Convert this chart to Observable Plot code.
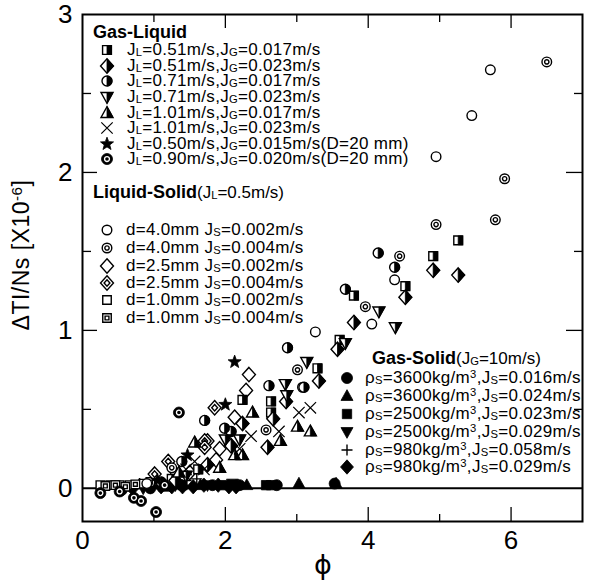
<!DOCTYPE html>
<html><head><meta charset="utf-8">
<script src="https://cdn.jsdelivr.net/npm/d3@7"></script>
<script src="https://cdn.jsdelivr.net/npm/@observablehq/plot@0.6"></script>
<style>
body{margin:0;background:#fff;}
#wrap{position:relative;width:594px;height:580px;font-family:"Liberation Sans",Arial,Helvetica,sans-serif;color:#000;overflow:hidden;}
#wrap svg.plot{position:absolute;left:0;top:0;}
.t{position:absolute;white-space:nowrap;line-height:0.86;transform:translateY(-50%);font-size:17px;letter-spacing:0.3px;}
.hd{font-weight:bold;font-size:18px;letter-spacing:0;}
.hd span{font-weight:normal;font-size:17px;}
.ic{position:absolute;overflow:visible;}
sub,sup{display:inline-block;font-size:0.66em;line-height:0.6;}
sub{vertical-align:-0.12em;}
sup{vertical-align:0.45em;}
</style></head>
<body><div id="wrap"></div>
<script>
// ---------- data (phi, ΔTI/Ns ×10^-6) ----------
const gl1 = [[1.25,0.06],[1.62,0.12],[2.24,0.56],[2.64,0.55],[2.64,0.48],[3.29,0.76],[3.60,0.94],[3.80,1.22],[4.52,1.28],[4.91,1.47],[5.26,1.57]];
const gl2 = [[1.30,0.05],[1.75,0.15],[2.08,0.27],[2.24,0.41],[2.59,0.26],[2.67,0.44],[2.85,0.55],[3.31,0.68],[3.57,0.88],[3.80,1.05],[4.52,1.21],[4.91,1.38],[5.26,1.35]];
const gl3 = [[1.10,0.04],[1.39,0.17],[1.71,0.43],[1.99,0.38],[2.08,0.36],[2.61,0.65],[2.87,0.89],[3.10,0.64],[3.68,1.26],[4.14,1.49],[4.37,1.40]];
const gl4 = [[1.45,0.08],[2.00,0.31],[2.20,0.31],[2.84,0.66],[2.86,0.59],[3.14,0.80],[3.68,0.92],[4.15,1.12],[4.38,1.02]];
const gl5 = [[1.35,0.10],[1.57,0.29],[1.92,0.13],[2.13,0.21],[2.24,0.21],[2.38,0.48],[2.77,0.30],[3.01,0.39],[3.19,0.36]];
const gl6 = [[1.45,0.12],[1.57,0.17],[1.70,0.12],[2.20,0.25],[2.36,0.33],[2.75,0.36],[3.03,0.48],[3.19,0.51]];
const gl7 = [[1.05,0.05],[1.47,0.21],[2.00,0.53],[2.13,0.80]];
const gl8 = [[0.25,-0.03],[0.52,-0.02],[0.72,-0.06],[0.82,-0.08],[1.03,-0.15],[1.15,0.02],[1.35,0.48]];
const ls1 = [[0.90,0.03],[1.30,0.10],[3.08,0.64],[3.26,0.99],[4.05,1.04],[4.37,1.32],[4.95,2.10],[5.45,2.36],[5.71,2.65]];
const ls2 = [[1.25,0.13],[2.57,0.37],[3.01,0.75],[3.96,1.15],[4.44,1.47],[4.95,1.67],[5.78,1.70],[5.91,1.96],[6.50,2.70]];
const ls3 = [[1.50,0.10],[1.75,0.30],[1.87,0.18],[1.92,0.25],[2.13,0.45],[2.29,0.62],[2.33,0.72]];
const ls4 = [[1.01,0.09],[1.20,0.17],[1.71,0.30],[1.71,0.26],[1.85,0.51]];
const ls5 = [[0.25,0.02],[0.39,0.02],[0.52,0.02],[0.66,0.02],[0.85,0.03]];
const ls6 = [[0.32,0.015],[0.46,0.02],[0.60,0.01],[0.74,0.025],[0.95,0.04]];
const gs1 = [[0.55,-0.01],[0.95,0.00],[1.82,0.02],[2.20,0.02],[2.72,0.02],[3.53,0.03]];
const gs2 = [[1.15,0.01],[1.65,0.02],[2.30,0.02],[3.03,0.03],[3.55,0.03]];
const gs3 = [[1.40,0.02],[2.00,0.02],[2.57,0.02],[2.64,0.02]];
const gs4 = [[0.85,0.00],[1.30,0.02],[1.75,0.02],[2.10,0.03]];
const gs5 = [[0.80,0.03],[1.00,0.05],[1.20,0.04],[1.45,0.05],[1.60,0.06]];
const gs6 = [[0.70,0.00],[0.95,0.01],[1.10,0.01],[1.25,0.01],[1.40,0.01],[1.55,0.01],[1.70,0.02],[1.90,0.02],[2.05,0.01],[2.15,0.01]];

const xLabels = [0,2,4,6];
const yLabels = [0,1,2,3];
const xMajor = [2,4,6], xMinor = [1,3,5];
const yMajor = [1,2], yMinor = [0.5,1.5,2.5];

const glLabels = ["J<sub>L</sub>=0.51m/s,J<sub>G</sub>=0.017m/s","J<sub>L</sub>=0.51m/s,J<sub>G</sub>=0.023m/s","J<sub>L</sub>=0.71m/s,J<sub>G</sub>=0.017m/s","J<sub>L</sub>=0.71m/s,J<sub>G</sub>=0.023m/s","J<sub>L</sub>=1.01m/s,J<sub>G</sub>=0.017m/s","J<sub>L</sub>=1.01m/s,J<sub>G</sub>=0.023m/s","J<sub>L</sub>=0.50m/s,J<sub>G</sub>=0.015m/s(D=20 mm)","J<sub>L</sub>=0.90m/s,J<sub>G</sub>=0.020m/s(D=20 mm)"];
const lsLabels = ["d=4.0mm J<sub>S</sub>=0.002m/s","d=4.0mm J<sub>S</sub>=0.004m/s","d=2.5mm J<sub>S</sub>=0.002m/s","d=2.5mm J<sub>S</sub>=0.004m/s","d=1.0mm J<sub>S</sub>=0.002m/s","d=1.0mm J<sub>S</sub>=0.004m/s"];
const gsLabels = ["ρ<sub>S</sub>=3600kg/m<sup>3</sup>,J<sub>S</sub>=0.016m/s","ρ<sub>S</sub>=3600kg/m<sup>3</sup>,J<sub>S</sub>=0.024m/s","ρ<sub>S</sub>=2500kg/m<sup>3</sup>,J<sub>S</sub>=0.023m/s","ρ<sub>S</sub>=2500kg/m<sup>3</sup>,J<sub>S</sub>=0.029m/s","ρ<sub>S</sub>=980kg/m<sup>3</sup>,J<sub>S</sub>=0.058m/s","ρ<sub>S</sub>=980kg/m<sup>3</sup>,J<sub>S</sub>=0.029m/s"];

// ---------- custom symbols ----------
const R = s => Math.sqrt(s / Math.PI);
const S = {
  circle:{draw(c,s){const r=R(s);c.moveTo(r,0);c.arc(0,0,r,0,2*Math.PI);}},
  circleRight:{draw(c,s){const r=R(s);c.moveTo(0,-r);c.arc(0,0,r,-Math.PI/2,Math.PI/2);c.closePath();}},
  ringIn:{draw(c,s){const r=R(s)*0.45;c.moveTo(r,0);c.arc(0,0,r,0,2*Math.PI);}},
  circle2:{draw(c,s){const r=R(s);c.moveTo(r,0);c.arc(0,0,r,0,2*Math.PI);const q=r*0.45;c.moveTo(q,0);c.arc(0,0,q,0,2*Math.PI);}},
  square:{draw(c,s){const h=R(s)*0.85;c.rect(-h,-h,2*h,2*h);}},
  squareRight:{draw(c,s){const h=R(s)*0.85;c.rect(0,-h,h,2*h);}},
  square2:{draw(c,s){const h=R(s)*0.85;c.rect(-h,-h,2*h,2*h);const q=h*0.45;c.rect(-q,-q,2*q,2*q);}},
  diamond:{draw(c,s){const r=R(s)*1.2;c.moveTo(0,-r);c.lineTo(r*0.9,0);c.lineTo(0,r);c.lineTo(-r*0.9,0);c.closePath();}},
  diamondRight:{draw(c,s){const r=R(s)*1.2;c.moveTo(0,-r);c.lineTo(r*0.9,0);c.lineTo(0,r);c.closePath();}},
  diamond2:{draw(c,s){const r=R(s)*1.2;c.moveTo(0,-r);c.lineTo(r*0.9,0);c.lineTo(0,r);c.lineTo(-r*0.9,0);c.closePath();const q=r*0.45;c.moveTo(0,-q);c.lineTo(q*0.9,0);c.lineTo(0,q);c.lineTo(-q*0.9,0);c.closePath();}},
  triUp:{draw(c,s){const r=R(s)*1.15;c.moveTo(0,-r);c.lineTo(r*0.95,r*0.7);c.lineTo(-r*0.95,r*0.7);c.closePath();}},
  triUpRight:{draw(c,s){const r=R(s)*1.15;c.moveTo(0,-r);c.lineTo(r*0.95,r*0.7);c.lineTo(0,r*0.7);c.closePath();}},
  triDown:{draw(c,s){const r=R(s)*1.15;c.moveTo(0,r);c.lineTo(r*0.95,-r*0.7);c.lineTo(-r*0.95,-r*0.7);c.closePath();}},
  triDownRight:{draw(c,s){const r=R(s)*1.15;c.moveTo(0,r);c.lineTo(r*0.95,-r*0.7);c.lineTo(0,-r*0.7);c.closePath();}},
  star:{draw(c,s){const r=R(s)*1.25, ri=r*0.42;for(let i=0;i<10;i++){const a=-Math.PI/2+i*Math.PI/5, rr=i%2?ri:r;const x=rr*Math.cos(a),y=rr*Math.sin(a);i?c.lineTo(x,y):c.moveTo(x,y);}c.closePath();}},
  times:{draw(c,s){const r=R(s)*0.95;c.moveTo(-r,-r);c.lineTo(r,r);c.moveTo(r,-r);c.lineTo(-r,r);}},
  plus:{draw(c,s){const r=R(s)*1.1;c.moveTo(-r,0);c.lineTo(r,0);c.moveTo(0,-r);c.lineTo(0,r);}}
};
const open = (sym, r=5) => ({sym, fill:"white", stroke:"black", sw:1.4, r});
const solid = (sym, r=5) => ({sym, fill:"black", stroke:"black", sw:0.8, r});
const half = (a, b, r=5) => [open(a,r), solid(b,r)];

const series = [
  {data:gs6, layers:[solid(S.diamond,6)]},
  {data:gs5, layers:[{sym:S.plus, fill:"none", stroke:"black", sw:1.4, r:5}]},
  {data:gs4, layers:[solid(S.triDown,5.5)]},
  {data:gs3, layers:[solid(S.square,5.5)]},
  {data:gs2, layers:[solid(S.triUp,5.5)]},
  {data:gs1, layers:[solid(S.circle,5.5)]},
  {data:ls5, layers:[open(S.square,5)]},
  {data:ls6, layers:[open(S.square2,5)]},
  {data:ls3, layers:[open(S.diamond,6)]},
  {data:ls4, layers:[open(S.diamond2,6)]},
  {data:ls1, layers:[open(S.circle,4.8)]},
  {data:ls2, layers:[open(S.circle2,4.8)]},
  {data:gl1, layers:half(S.square,S.squareRight,5.2)},
  {data:gl2, layers:half(S.diamond,S.diamondRight,6)},
  {data:gl3, layers:half(S.circle,S.circleRight,5)},
  {data:gl4, layers:half(S.triDown,S.triDownRight,5.5)},
  {data:gl5, layers:half(S.triUp,S.triUpRight,5.5)},
  {data:gl6, layers:[{sym:S.times, fill:"none", stroke:"black", sw:1.2, r:6}]},
  {data:gl7, layers:[solid(S.star,5.5)]},
  {data:gl8, layers:[solid(S.circle,5.5), {sym:S.ringIn, fill:"none", stroke:"white", sw:1.3, r:5.5}]}
];

const innerH = 580 - 14 - 59, innerW = 594 - 82 - 12;
const dotMarks = series.flatMap(s => s.layers.map(L =>
  Plot.dot(s.data, {x: d => d[0], y: d => d[1], symbol: L.sym, r: L.r, fill: L.fill, stroke: L.stroke, strokeWidth: L.sw})));

const chart = Plot.plot({
  width: 594, height: 580,
  marginLeft: 82, marginRight: 12, marginTop: 14, marginBottom: 59,
  x: {domain: [0, 7]},
  y: {domain: [-0.21, 3]},
  style: {fontFamily: "'Liberation Sans', Arial, sans-serif", color: "black", background: "white"},
  marks: [
    Plot.ruleY([0], {strokeWidth: 2}),
    Plot.ruleX(xMajor, {insetTop: innerH - 14, strokeWidth: 1.3}),
    Plot.ruleX(xMinor, {insetTop: innerH - 7, strokeWidth: 1.3}),
    Plot.ruleX(xMajor, {insetBottom: innerH - 14, strokeWidth: 1.3}),
    Plot.ruleX(xMinor, {insetBottom: innerH - 8, strokeWidth: 1.3}),
    Plot.ruleY(yMajor, {insetRight: innerW - 15, strokeWidth: 1.3}),
    Plot.ruleY(yMinor, {insetRight: innerW - 9, strokeWidth: 1.3}),
    Plot.ruleY(yMajor, {insetLeft: innerW - 16, strokeWidth: 1.3}),
    Plot.ruleY(yMinor, {insetLeft: innerW - 8, strokeWidth: 1.3}),
    Plot.frame({strokeWidth: 2}),
    Plot.axisX({ticks: xLabels, tickFormat: d3.format("d"), tickSize: 0, tickPadding: 9, fontSize: 26, label: null}),
    Plot.axisY({ticks: yLabels, tickFormat: d3.format("d"), tickSize: 0, tickPadding: 10, fontSize: 26, label: null}),
    ...dotMarks
  ]
});
const wrap = document.getElementById("wrap");
wrap.appendChild(chart);

// ---------- overlay texts & legends ----------
function addText(html, x, y, cls="t") {
  const d = document.createElement("div");
  d.className = cls; d.innerHTML = html;
  d.style.left = x + "px"; d.style.top = y + "px";
  wrap.appendChild(d); return d;
}
function addIcon(layers, cx, cy) {
  const svg = d3.select(wrap).append("svg").attr("class","ic")
    .attr("width",20).attr("height",20)
    .style("left",(cx-10)+"px").style("top",(cy-10)+"px");
  layers.forEach(L => {
    const p = d3.path(); L.sym.draw(p, Math.PI * L.r * L.r);
    svg.append("path").attr("transform","translate(10,10)").attr("d", p.toString())
      .attr("fill", L.fill).attr("stroke", L.stroke).attr("stroke-width", L.sw);
  });
}
// Gas-Liquid
addText("Gas-Liquid", 93, 33, "t hd");
const glOrder = [gl1,gl2,gl3,gl4,gl5,gl6,gl7,gl8];
const glY = [50,66,81,97,113,128,144,159];
glOrder.forEach((arr,i) => {
  const s = series.find(q => q.data === arr);
  addIcon(s.layers, 107, glY[i]);
  addText(glLabels[i], 127, glY[i]);
});
// Liquid-Solid
addText("Liquid-Solid<span>(J<sub>L</sub>=0.5m/s)</span>", 93, 193, "t hd");
const lsOrder = [ls1,ls2,ls3,ls4,ls5,ls6];
const lsY = [230,248,266,283,300,318];
lsOrder.forEach((arr,i) => {
  const s = series.find(q => q.data === arr);
  addIcon(s.layers, 107, lsY[i]);
  addText(lsLabels[i], 126, lsY[i]);
});
// Gas-Solid
addText("Gas-Solid<span>(J<sub>G</sub>=10m/s)</span>", 372, 359, "t hd");
const gsOrder = [gs1,gs2,gs3,gs4,gs5,gs6];
const gsY = [378,396,414,432,450,467];
gsOrder.forEach((arr,i) => {
  const s = series.find(q => q.data === arr);
  addIcon(s.layers, 347, gsY[i]);
  addText(gsLabels[i], 365, gsY[i]);
});
// axis titles
const yt = addText("ΔTI/Ns [X10<sup>-6</sup>]", 22, 255, "t");
yt.style.fontSize = "23px"; yt.style.letterSpacing = "0.5px";
yt.style.transform = "translate(-50%,-50%) rotate(-90deg)";
const xt = addText("ϕ", 323, 565, "t");
xt.style.fontSize = "27px"; xt.style.transform = "translate(-50%,-50%)";
xt.style.fontFamily = "'DejaVu Sans', 'Liberation Sans', sans-serif";
</script>
</body></html>
